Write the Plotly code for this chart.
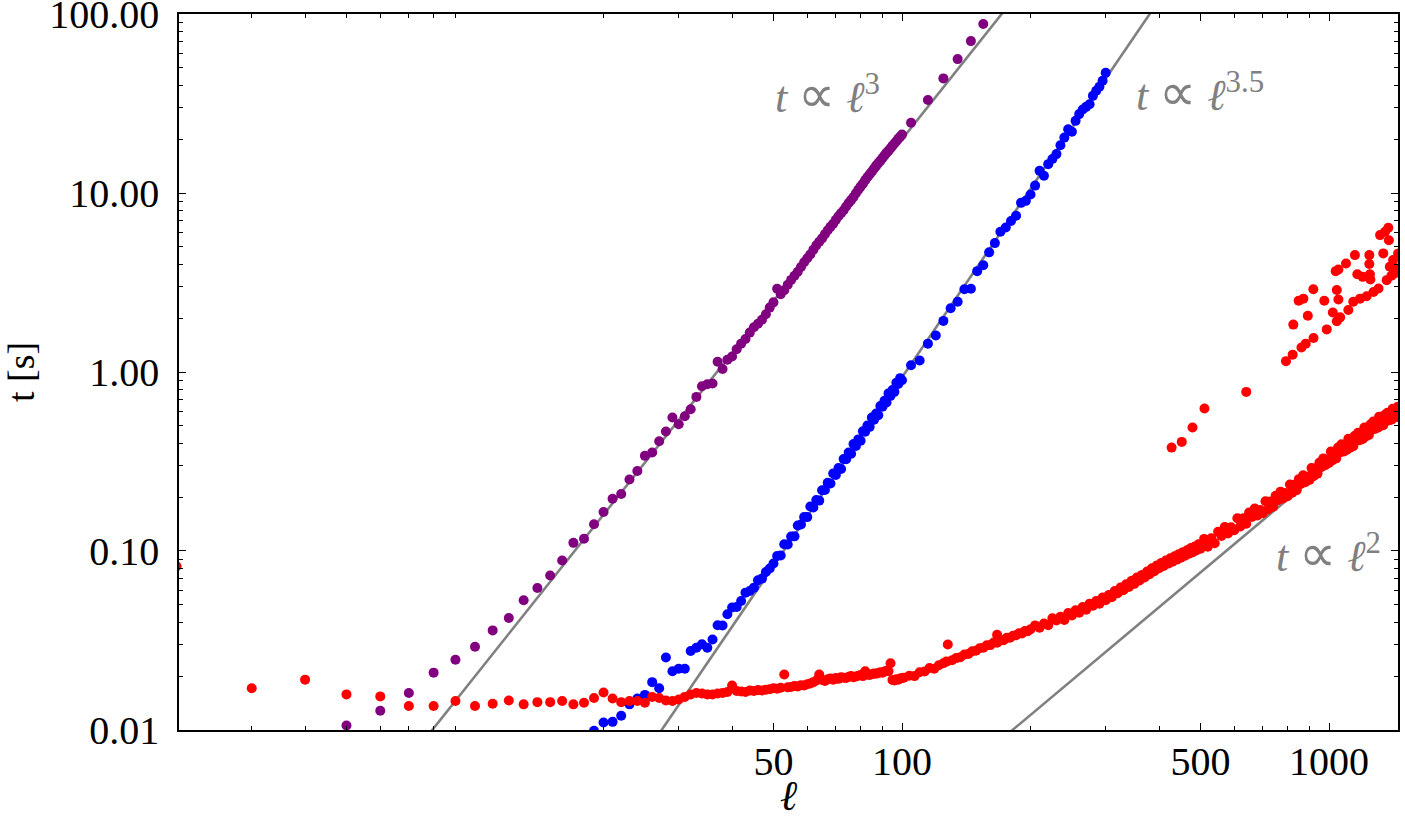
import plotly.graph_objects as go

# ---------------- data ----------------
purple_l = [5, 6, 7, 8, 9, 10, 11, 12, 13, 14, 15, 16, 17, 18, 19, 20, 21, 22, 23, 24, 25,
            26, 27, 28, 29, 30, 31, 32, 33, 34, 35, 36, 37, 38, 39, 40, 41,
            42, 43, 44, 45, 46, 47, 48, 49, 50, 51, 52, 53, 54, 55, 56, 57, 58, 59, 60, 61,
            62, 63, 64, 65, 66, 67, 68, 69, 70, 71, 72, 73, 74, 75, 76, 77, 78, 79, 80, 81,
            82, 83, 84, 85, 86, 87, 88, 89, 90, 91, 92, 93, 94, 95, 96, 97, 98, 99, 100,
            105, 115, 125, 135, 145, 155]
purple_t = [0.0106, 0.0128, 0.0161, 0.0209, 0.0247, 0.0292, 0.0360, 0.0422, 0.0530, 0.0621,
            0.0729, 0.0884, 0.111, 0.117, 0.141, 0.165, 0.196, 0.208, 0.251, 0.280, 0.340,
            0.355, 0.410, 0.465, 0.557, 0.511, 0.566, 0.619, 0.726, 0.833, 0.855, 0.863,
            1.14, 1.04, 1.17, 1.22, 1.34,
            1.44, 1.53, 1.66, 1.78, 1.86, 1.96, 2.10, 2.29, 2.45, 2.92, 2.72, 2.86, 3.07,
            3.27, 3.45, 3.63, 3.86, 4.10, 4.32, 4.54, 4.82, 5.10, 5.34, 5.58, 5.89, 6.20,
            6.47, 6.74, 7.08, 7.42, 7.72, 8.02, 8.40, 8.79, 9.13, 9.50, 9.97, 10.43, 10.86,
            11.28, 11.8, 12.30, 12.74, 13.18, 13.7, 14.23, 14.7, 15.15, 15.7, 16.26, 16.77,
            17.25, 17.8, 18.38, 18.9, 19.45, 20.1, 20.6, 21.2,
            24.7, 33.1, 43.7, 56.0, 70.6, 87.9]

blue_l = [19, 20, 21, 22, 23, 24, 25, 26, 27, 28, 29, 30, 31, 32, 33, 34, 35, 36, 37, 38,
          39, 40, 41, 42, 43, 44, 45, 46, 47, 48, 49, 50,
          51, 52, 53, 54, 55, 56, 57, 58, 59, 60, 61, 62, 63, 64, 65, 66, 67, 68, 69, 70,
          71, 72, 73, 74, 75, 76, 77, 78, 79, 80, 81, 82, 83, 84, 85, 86, 87, 88, 89, 90,
          91, 92, 93, 94, 95, 96, 97, 98, 99,
          100, 105, 110, 115, 120, 125, 130, 135, 140, 145, 150, 155, 160, 165, 170, 175,
          180, 185, 190, 195, 200, 205, 210, 215, 220, 225, 230, 235, 240, 245, 250, 255,
          260, 265, 270, 275, 280, 285, 290, 295, 300]
blue_t = [0.0099, 0.0110, 0.0111, 0.0120, 0.0139, 0.0150, 0.0157, 0.0185, 0.0171, 0.0254,
          0.0213, 0.0220, 0.0220, 0.0276, 0.0288, 0.0301, 0.0288, 0.0320, 0.0385, 0.0383,
          0.0443, 0.0483, 0.0487, 0.0525, 0.0585, 0.0598, 0.0624, 0.0686, 0.0701, 0.0763,
          0.0798, 0.0851,
          0.0937, 0.0944, 0.1091, 0.1086, 0.1205, 0.1207, 0.1389, 0.1405, 0.1550, 0.1546,
          0.1772, 0.1749, 0.1925, 0.1912, 0.2186, 0.2193, 0.2403, 0.2382, 0.2711, 0.2660,
          0.2907, 0.2871, 0.3261, 0.3254, 0.3546, 0.3496, 0.3959, 0.3863, 0.4201, 0.4130,
          0.4670, 0.4637, 0.5029, 0.4937, 0.5567, 0.5410, 0.5860, 0.5737, 0.6462, 0.6392,
          0.6909, 0.6758, 0.7595, 0.7356, 0.7941, 0.7747, 0.8698, 0.8576, 0.9241,
          0.900, 1.09, 1.16, 1.44, 1.60, 1.93, 2.27, 2.47, 2.90, 2.92, 3.66, 3.95, 4.66,
          5.25, 6.07, 6.42, 6.97, 7.46, 8.81, 9.04, 9.82, 11.0, 13.3, 12.5, 14.5, 15.5,
          16.5, 18.5, 20.4, 22.7, 22.0, 25.3, 27.6, 29.3, 30.3, 31.3, 34.9, 37.3, 39.2,
          42.4, 47.0]

red_l = [2, 3, 4, 5, 6, 7, 8, 9, 10, 11, 12, 13, 14, 15, 16, 17, 18, 19, 20, 21, 22, 23,
         24, 25, 26, 27, 28, 29, 30, 31, 32, 33, 34, 35, 36, 37, 38, 39, 40, 41, 42, 43,
         44, 45, 46, 47, 48, 49, 50, 51, 52, 53, 54, 55, 56, 57, 58, 59, 60, 61, 62, 63,
         64, 65, 66, 67, 68, 69, 70, 71, 72, 73, 74, 75, 76, 77, 78, 79, 80, 81, 82, 83,
         84, 85, 86, 87, 88, 89, 90, 91, 92, 93, 94, 95, 96, 97, 98, 99, 100,
         101, 104, 107, 110, 113, 116, 119, 122, 125, 127, 128, 131, 134, 137, 140, 143,
         146, 149, 152, 155, 158, 161, 164, 167, 167, 170, 173, 176, 179, 182, 185, 188,
         191, 194, 197, 200,
         205, 210, 215, 220, 225, 230, 235, 240, 245, 250, 255, 260, 265, 270, 275, 280,
         285, 290, 295, 300, 305, 310, 315, 320, 325, 330, 335, 340, 345, 350, 355, 360,
         365, 370, 375, 380, 385, 390, 395, 400, 405, 410, 415, 420, 425, 430, 435, 440,
         445, 450, 455, 460, 465, 470, 475, 480, 485, 490, 495, 500,
         510, 520, 530, 540, 550, 560, 570, 580, 590, 600, 610, 620, 630, 640, 650, 660,
         670, 680, 690, 700, 710, 720, 730, 740, 750, 760, 770, 780, 790, 800, 810, 820,
         830, 840, 850, 860, 870, 880, 890, 900, 910, 920, 930, 940, 950, 960, 970, 980,
         990, 1000, 1010, 1020, 1030, 1040, 1050, 1060, 1070, 1080, 1090, 1100, 1110,
         1120, 1130, 1140, 1150, 1160, 1170, 1180, 1190, 1200, 1210, 1220, 1230, 1240,
         1250, 1260, 1270, 1280, 1290, 1300, 1310, 1320, 1330, 1340, 1350, 1360, 1370,
         1380, 1390, 1400, 1410, 1420, 1430, 1440, 1450, 1460]
red_t = [0.0821, 0.0171, 0.0191, 0.0158, 0.0154, 0.0136, 0.0136, 0.0145, 0.0136, 0.0140,
         0.0146, 0.0139, 0.0143, 0.0143, 0.0145, 0.0139, 0.0142, 0.0151, 0.0162, 0.0150,
         0.0143, 0.0145, 0.0145, 0.0142, 0.0153, 0.0151, 0.0146, 0.0145, 0.0148, 0.0153,
         0.0158, 0.0161, 0.0160, 0.0158, 0.0158, 0.0160, 0.0161, 0.0163, 0.0177, 0.0165,
         0.0164, 0.0163, 0.0166, 0.0165, 0.0167, 0.0166, 0.0168, 0.0169, 0.0171, 0.0170,
         0.0172, 0.0204, 0.0173, 0.0174, 0.0176, 0.0175, 0.0178, 0.0177, 0.0180, 0.0182,
         0.0185, 0.0189, 0.0204, 0.0190, 0.0188, 0.0192, 0.0194, 0.0191, 0.0195, 0.0193,
         0.0197, 0.0196, 0.0195, 0.0198, 0.0200, 0.0197, 0.0199, 0.0201, 0.0203, 0.0200,
         0.0213, 0.0204, 0.0203, 0.0205, 0.0207, 0.0206, 0.0208, 0.0210, 0.0209, 0.0212,
         0.0214, 0.0213, 0.0236, 0.0190, 0.0189, 0.0192, 0.0191, 0.0194, 0.0195,
         0.0196, 0.0201, 0.0200, 0.0210, 0.0212, 0.0222, 0.0220, 0.0230, 0.0236, 0.0241,
         0.0300, 0.0245, 0.0252, 0.0255, 0.0264, 0.0266, 0.0275, 0.0277, 0.0286, 0.0288,
         0.0297, 0.0298, 0.0308, 0.0340, 0.0307, 0.0316, 0.0317, 0.0327, 0.0328, 0.0336,
         0.0338, 0.0347, 0.0346, 0.0357, 0.0356, 0.0365,
         0.0384, 0.0373, 0.0393, 0.0385, 0.0421, 0.0409, 0.0429, 0.0412, 0.0450, 0.0436,
         0.0466, 0.0452, 0.0486, 0.0470, 0.0508, 0.0495, 0.0525, 0.0508, 0.0549, 0.0530,
         0.0568, 0.0551, 0.0597, 0.0580, 0.0625, 0.0604, 0.0652, 0.0630, 0.0681, 0.0655,
         0.0710, 0.0684, 0.0735, 0.0712, 0.0768, 0.0741, 0.0800, 0.0770, 0.0830, 0.0800,
         0.0858, 0.0825, 0.0884, 0.0850, 0.0910, 0.0870, 0.0935, 0.0895, 0.0960, 0.0918,
         0.0985, 0.0940, 0.101, 0.0965, 0.104, 0.0985, 0.106, 0.101, 0.109, 0.103,
         0.1168, 0.1056, 0.1178, 0.1104, 0.1279, 0.1213, 0.1362, 0.1254, 0.1355, 0.1307,
         0.1525, 0.1372, 0.1524, 0.1421, 0.1639, 0.1547, 0.1727, 0.1580, 0.1696, 0.1626,
         0.1896, 0.1705, 0.1893, 0.1765, 0.2037, 0.1923, 0.2145, 0.1963, 0.2108, 0.2021,
         0.2354, 0.2115, 0.2346, 0.2186, 0.2520, 0.2377, 0.2650, 0.2423, 0.2600, 0.2491,
         0.2905, 0.2613, 0.2902, 0.2706, 0.3124, 0.2949, 0.3291, 0.3012, 0.3235, 0.3102,
         0.3595, 0.3215, 0.3550, 0.3292, 0.3780, 0.3550, 0.3943, 0.3591, 0.3840, 0.3666,
         0.4237, 0.3779, 0.4162, 0.3850, 0.4410, 0.4132, 0.4579, 0.4161, 0.4440, 0.4230,
         0.4890, 0.4362, 0.4804, 0.4445, 0.5093, 0.4772, 0.5289, 0.4807, 0.5130, 0.4888,
         0.5623, 0.4991, 0.5472, 0.5041, 0.5749, 0.5364, 0.5920, 0.5358, 0.5695, 0.5405,
         0.6227, 0.5537, 0.6079, 0.5608, 0.6405, 0.5985]

red_hi_l = [428, 452, 479, 511, 640, 793, 822, 825, 849, 862, 871, 882, 892, 919, 920,
            975, 988, 1021, 1037, 1043, 1043, 1052, 1052, 1062, 1096, 1110, 1140, 1150,
            1165, 1182, 1199, 1225, 1243, 1243, 1247, 1250, 1271, 1306, 1317, 1340, 1353,
            1365, 1377, 1381, 1388, 1400, 1413, 1426, 1440, 1452]
red_hi_t = [0.378, 0.407, 0.490, 0.625, 0.774, 1.15, 1.25, 1.84, 2.50, 1.37, 2.57, 1.44,
            2.06, 2.90, 1.55, 2.50, 1.73, 2.15, 3.66, 2.87, 1.92, 3.74, 2.54, 2.02, 4.04,
            2.22, 2.47, 4.50, 3.52, 2.57, 3.40, 2.65, 4.50, 4.01, 3.52, 3.29, 2.80, 2.93,
            5.82, 4.60, 6.07, 3.26, 6.39, 5.45, 3.87, 3.45, 4.22, 3.55, 3.80, 4.60]

# guide lines t = 10**logC * l**p
guide_p = [3.0, 3.5, 2.0]
guide_logC = [-4.70, -7.03, -6.518]
guide_l = [1.5, 2000.0]

x_major = [50, 100, 500, 1000]
x_major_text = ["50", "100", "500", "1000"]
x_minor = [3, 4, 5, 6, 7, 8, 9, 20, 30, 40, 60, 70, 80, 90, 200, 300, 400, 600, 700, 800, 900]
y_major = [0.01, 0.1, 1, 10, 100]
y_major_text = ["0.01", "0.10", "1.00", "10.00", "100.00"]
y_minor = [m * d for d in (0.01, 0.1, 1, 10) for m in range(2, 10)]

# ---------------- figure ----------------
FONT = "Liberation Serif"
GRAY = "#808080"
fig = go.Figure()

for p, lc in zip(guide_p, guide_logC):
    fig.add_trace(go.Scatter(
        x=guide_l, y=[10 ** lc * v ** p for v in guide_l], mode="lines",
        line=dict(color=GRAY, width=2.6), showlegend=False, hoverinfo="skip"))

mk = dict(size=10, line=dict(width=0))
fig.add_trace(go.Scatter(x=purple_l, y=purple_t, mode="markers",
                         marker=dict(color="#800080", **mk), showlegend=False))
fig.add_trace(go.Scatter(x=blue_l, y=blue_t, mode="markers",
                         marker=dict(color="#0000ff", **mk), showlegend=False))
fig.add_trace(go.Scatter(x=red_l, y=red_t, mode="markers",
                         marker=dict(color="#ff0000", **mk), showlegend=False))
fig.add_trace(go.Scatter(x=red_hi_l, y=red_hi_t, mode="markers",
                         marker=dict(color="#ff0000", **mk), showlegend=False))

axis_common = dict(
    ticks="inside", ticklen=7, tickwidth=1.2, tickcolor="black",
    showline=True, linecolor="black", linewidth=1.5, mirror="allticks",
    showgrid=False, zeroline=False, automargin=False, ticklabeloverflow="allow",
    tickfont=dict(family=FONT, size=40, color="black"),
)

fig.update_xaxes(
    type="log", range=[0.3068, 3.1616],
    tickmode="array", tickvals=x_major, ticktext=x_major_text,
    minor=dict(tickmode="array", tickvals=x_minor, ticks="inside", ticklen=4,
               tickwidth=1, tickcolor="black", showgrid=False),
    title=dict(text="<i>ℓ</i>", font=dict(family=FONT, size=42, color="black"), standoff=20),
    ticklabelstandoff=-5,
    **axis_common)
fig.update_yaxes(
    type="log", range=[-2.0002, 2.0002],
    tickmode="array", tickvals=y_major, ticktext=y_major_text,
    minor=dict(tickmode="array", tickvals=y_minor, ticks="inside", ticklen=4,
               tickwidth=1, tickcolor="black", showgrid=False),
    title=dict(text="t [s]", font=dict(family=FONT, size=38, color="black"), standoff=22),
    ticklabelstandoff=10,
    **axis_common)

ann_font = dict(family=FONT, size=44, color=GRAY)
ann_common = dict(xref="paper", yref="paper", showarrow=False, font=ann_font,
                  xanchor="center", yanchor="middle")
prop = '<span style="font-size:52px">∝</span>'
fig.add_annotation(text=f"<i>t</i> {prop} <i>ℓ</i><sup>3</sup>", x=0.532, y=0.887, **ann_common)
fig.add_annotation(text=f"<i>t</i> {prop} <i>ℓ</i><sup>3.5</sup>", x=0.8376, y=0.891, **ann_common)
fig.add_annotation(text=f"<i>t</i> {prop} <i>ℓ</i><sup>2</sup>", x=0.9426, y=0.247, **ann_common)

fig.update_layout(
    width=1405, height=819, autosize=False,
    margin=dict(l=179, r=7, t=14, b=89),
    paper_bgcolor="white", plot_bgcolor="white",
    showlegend=False,
)

fig.write_html("out.html")
